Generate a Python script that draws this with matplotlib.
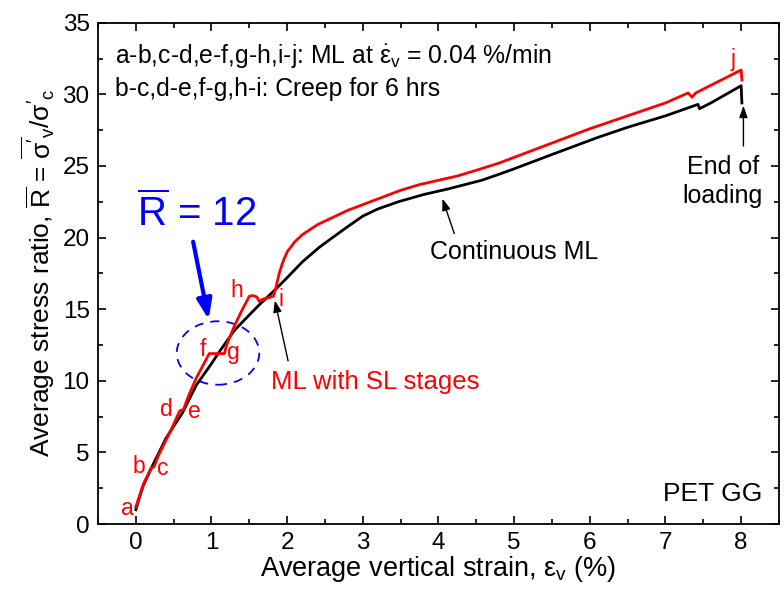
import matplotlib
matplotlib.use("Agg")
import matplotlib.pyplot as plt
from matplotlib.patches import Ellipse

plt.rcParams['font.family'] = ['Liberation Sans', 'DejaVu Sans']
plt.rcParams['mathtext.fontset'] = 'custom'
plt.rcParams['mathtext.rm'] = 'Liberation Sans'
plt.rcParams['mathtext.it'] = 'Liberation Sans:italic'
plt.rcParams['mathtext.bf'] = 'Liberation Sans:bold'

# Multi-stage loading with sustained-load (creep) stages (red)
red_strain = [0.0, 0.05, 0.1, 0.2, 0.24, 0.3, 0.45, 0.58, 0.63, 0.7, 0.8, 0.9, 0.97,
              1.17, 1.2, 1.3, 1.4, 1.5, 1.55, 1.6, 1.63, 1.68, 1.75, 1.82, 1.85, 1.9,
              1.95, 2.0, 2.1, 2.2, 2.4, 2.6, 2.8, 3.0, 3.25, 3.5, 3.75, 4.0, 4.25, 4.5,
              4.8, 5.0, 5.5, 6.0, 6.5, 7.0, 7.3, 7.35, 7.4, 7.7, 8.0, 8.01]
red_ratio = [1.2, 2.0, 2.8, 3.9, 4.0, 4.8, 6.4, 7.9, 8.0, 9.0, 10.2, 11.2, 11.9,
             11.9, 12.5, 13.8, 14.9, 15.9, 15.95, 15.85, 15.55, 15.7, 15.8, 15.9, 16.5, 17.6,
             18.4, 19.0, 19.7, 20.2, 20.9, 21.4, 21.9, 22.3, 22.8, 23.3, 23.7, 24.0, 24.3, 24.7,
             25.2, 25.6, 26.6, 27.6, 28.5, 29.4, 30.1, 29.8, 30.1, 30.9, 31.7, 31.0]

# Continuous multi-stage loading (black)
black_strain = [0.0, 0.05, 0.1, 0.22, 0.4, 0.62, 0.8, 1.0, 1.1, 1.3, 1.5, 1.63, 1.85,
                2.0, 2.2, 2.42, 2.6, 2.81, 3.0, 3.2, 3.47, 3.8, 4.13, 4.57, 4.79, 5.0,
                5.5, 6.11, 6.5, 7.0, 7.43, 7.45, 7.6, 8.0, 8.01]
black_ratio = [1.0, 1.9, 2.7, 4.07, 6.0, 7.8, 9.7, 11.2, 12.0, 13.5, 14.6, 15.3, 16.4,
               17.2, 18.3, 19.3, 20.0, 20.8, 21.5, 22.0, 22.5, 23.0, 23.4, 24.0, 24.4, 24.8,
               25.8, 27.0, 27.7, 28.5, 29.3, 29.0, 29.4, 30.6, 29.4]

# Stage point labels
stage_labels = ['a', 'b', 'c', 'd', 'e', 'f', 'g', 'h', 'i', 'j']
stage_x = [-0.115, 0.035, 0.35, 0.41, 0.77, 0.88, 1.29, 1.33, 1.92, 7.89]
stage_y = [1.1, 4.05, 3.9, 7.97, 7.87, 12.2, 12.0, 16.3, 15.7, 32.4]

xticks = [0, 1, 2, 3, 4, 5, 6, 7, 8]
yticks = [0, 5, 10, 15, 20, 25, 30, 35]

fig = plt.figure(figsize=(7.84, 5.95), dpi=100)
ax = fig.add_axes([0.125, 0.1193, 0.8686, 0.8425])

ax.plot(black_strain, black_ratio, color='black', lw=2.0, zorder=3)
ax.plot(red_strain, red_ratio, color='red', lw=2.0, zorder=4)

ax.set_xlim(-0.5, 8.47)
ax.set_ylim(0, 35)
ax.set_xticks(xticks)
ax.set_yticks(yticks)
ax.set_xticks([v + 0.5 for v in range(-1, 9)], minor=True)
ax.set_yticks([v + 2.5 for v in range(0, 35, 5)], minor=True)
ax.tick_params(which='both', direction='in', top=True, right=True, labelsize=17.5, width=1.2)
ax.tick_params(which='major', length=6, pad=6)
ax.tick_params(which='minor', length=3.5)
for s in ax.spines.values():
    s.set_linewidth(1.3)

ax.set_xlabel(r"Average vertical strain, $\mathrm{ε}_{\mathrm{v}}$ (%)", fontsize=19.5, labelpad=0)
ax.set_ylabel(r"Average stress ratio, $\overline{\mathrm{R}}$ = $\overline{\mathrm{σ'}}_{\mathrm{v}}$/$\mathrm{σ'}_{\mathrm{c}}$",
              fontsize=19, labelpad=4)

ax.text(-0.28, 32.2, r"a-b,c-d,e-f,g-h,i-j: ML at $\dot{\mathrm{ε}}_{\mathrm{v}}$ = 0.04 %/min",
        fontsize=17.8, ha='left', va='baseline')
ax.text(-0.28, 29.9, "b-c,d-e,f-g,h-i: Creep for 6 hrs", fontsize=17.8, ha='left', va='baseline')

for lab, xx, yy in zip(stage_labels, stage_x, stage_y):
    ax.text(xx, yy, lab, color='red', fontsize=16.5, ha='center', va='center', zorder=5)

ax.text(0.8, 20.8, r"$\overline{\mathrm{R}}$ = 12", color='blue', fontsize=29, ha='center', va='baseline')
ax.annotate('', xy=(0.97, 14.1), xytext=(0.75, 19.9),
            arrowprops=dict(arrowstyle='-|>,head_width=0.45,head_length=1.2', color='blue', lw=3))
ax.add_patch(Ellipse((1.086, 11.94), 1.09, 4.43, fill=False, edgecolor='blue',
                     ls=(0, (5, 4)), lw=1.3, zorder=2))

ax.annotate('', xy=(1.83, 15.8), xytext=(2.02, 11.2),
            arrowprops=dict(arrowstyle='-|>,head_width=0.25,head_length=0.7', color='black', lw=1.0))
ax.text(3.17, 9.9, "ML with SL stages", color='red', fontsize=18.5, ha='center', va='center')

ax.annotate('', xy=(4.04, 22.9), xytext=(4.22, 20.1),
            arrowprops=dict(arrowstyle='-|>,head_width=0.25,head_length=0.7', color='black', lw=1.0))
ax.text(5.0, 19.0, "Continuous ML", color='black', fontsize=18, ha='center', va='center')

ax.annotate('', xy=(8.03, 29.4), xytext=(8.03, 26.2),
            arrowprops=dict(arrowstyle='-|>,head_width=0.25,head_length=0.7', color='black', lw=1.0))
ax.text(7.76, 23.9, "End of\nloading", color='black', fontsize=18, ha='center', va='center',
        linespacing=1.25)

ax.text(8.28, 1.6, "PET GG", color='black', fontsize=19, ha='right', va='baseline')

fig.savefig("out.png", dpi=100)
